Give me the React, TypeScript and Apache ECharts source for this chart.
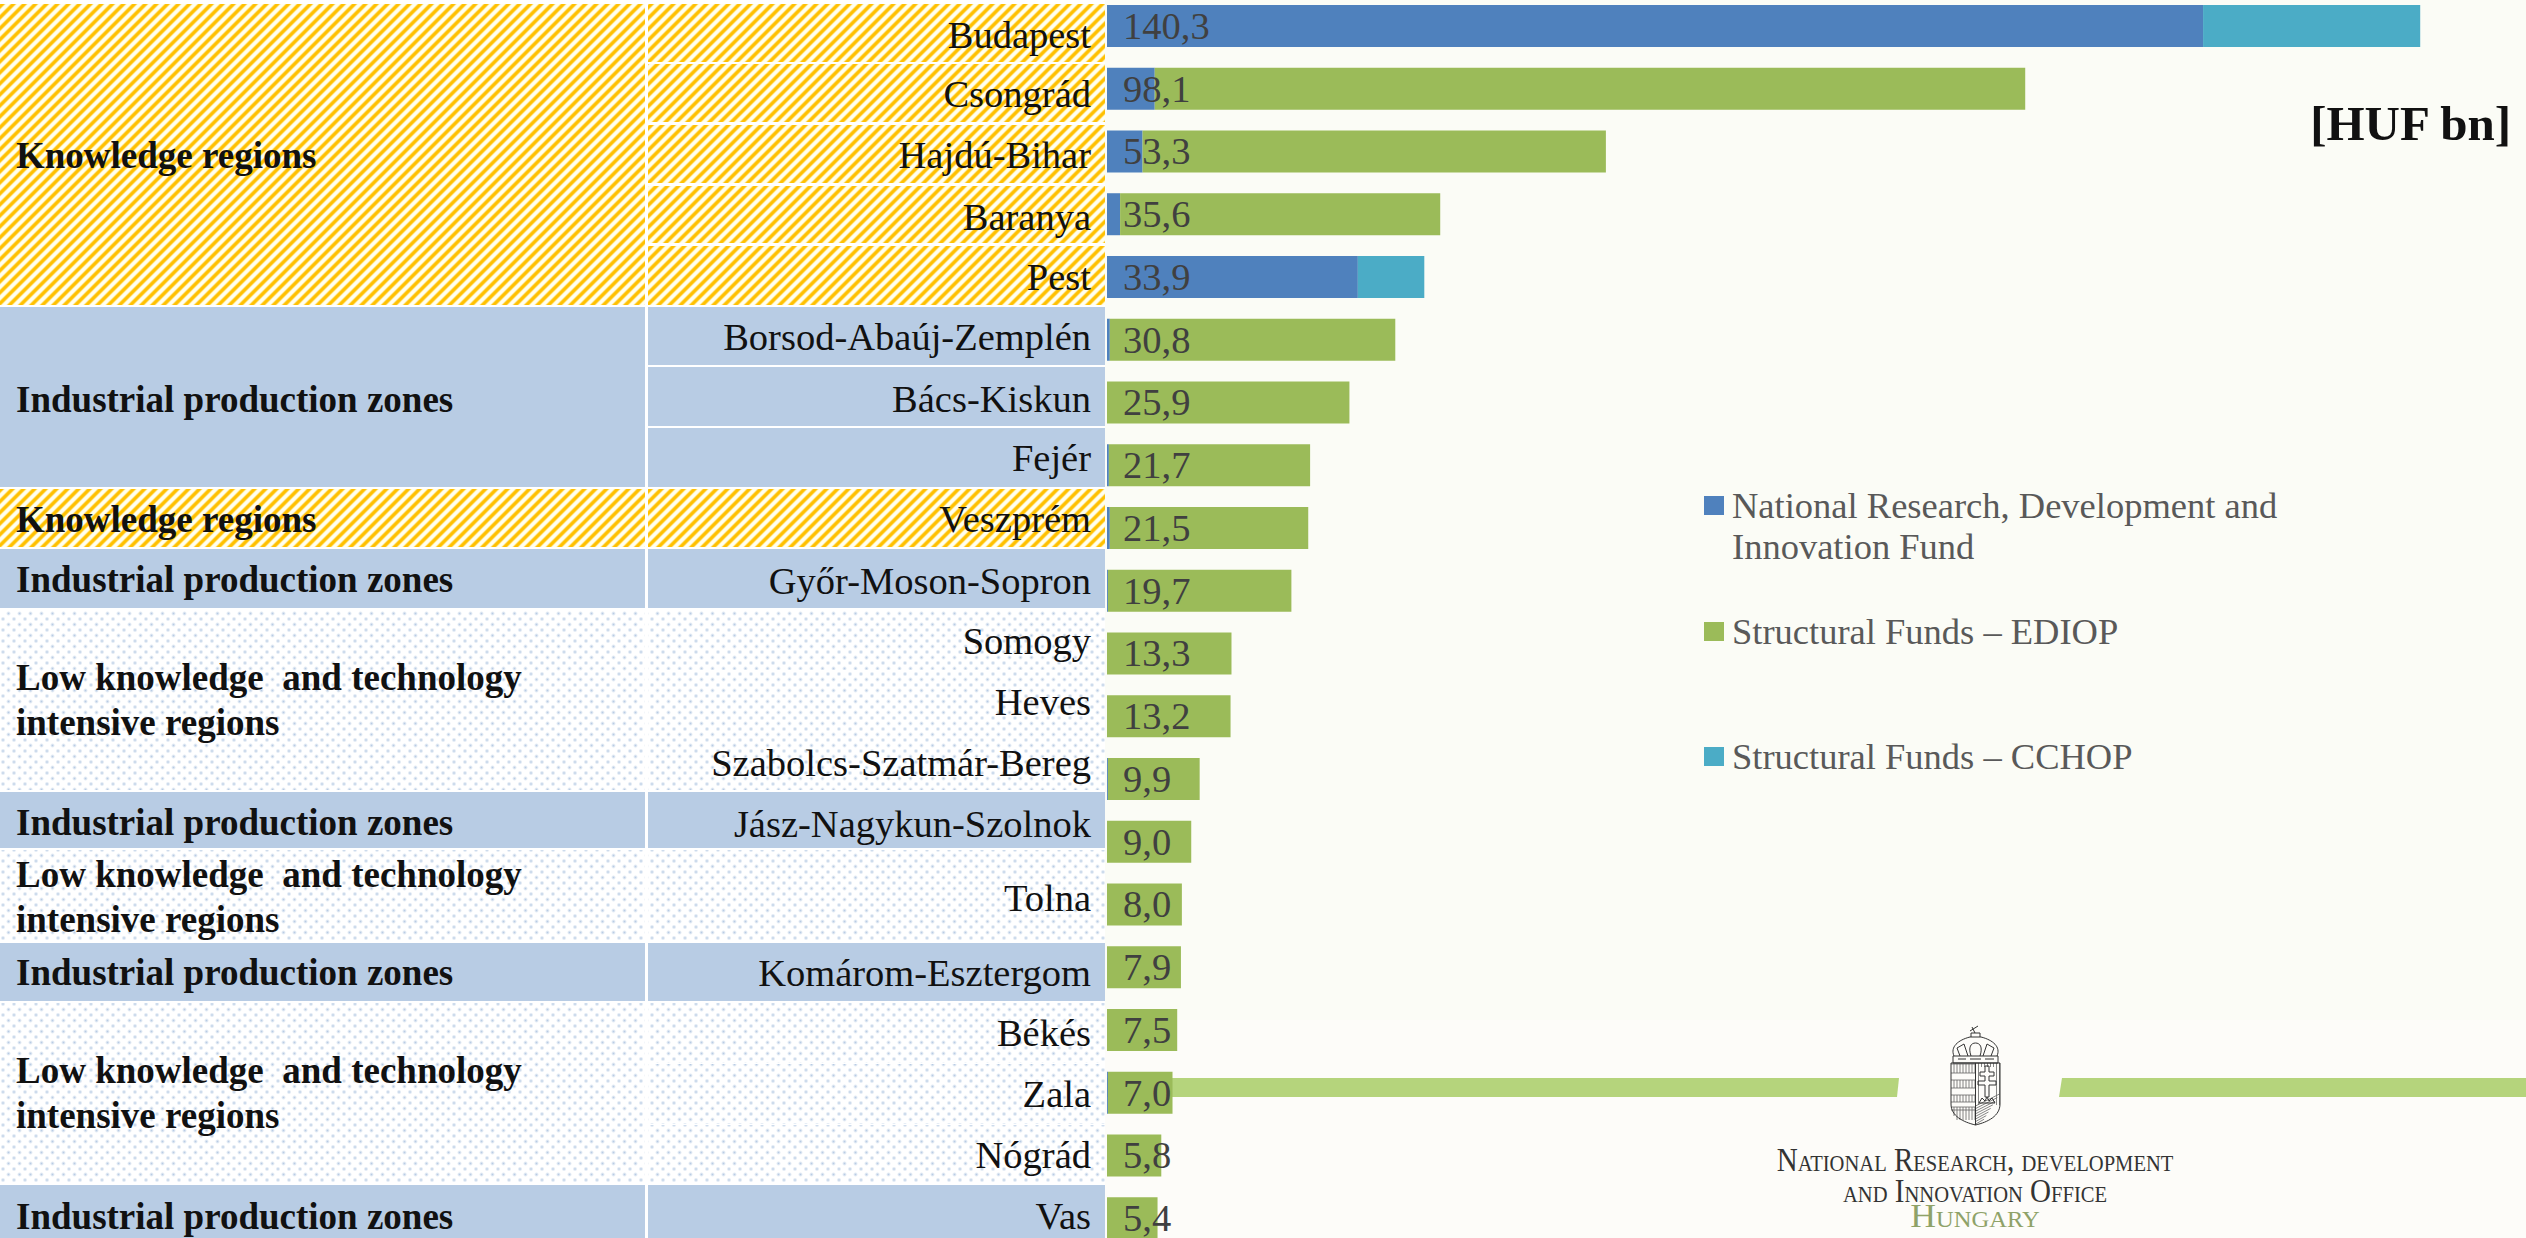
import React, { useEffect, useRef } from "react";
import * as echarts from "echarts";

const counties = [
  "Budapest", "Csongrád", "Hajdú-Bihar", "Baranya", "Pest",
  "Borsod-Abaúj-Zemplén", "Bács-Kiskun", "Fejér", "Veszprém", "Győr-Moson-Sopron",
  "Somogy", "Heves", "Szabolcs-Szatmár-Bereg", "Jász-Nagykun-Szolnok", "Tolna",
  "Komárom-Esztergom", "Békés", "Zala", "Nógrád", "Vas",
];
const nrdiFund = [117.1, 5.1, 3.8, 1.4, 26.8, 0.3, 0, 0.2, 0.3, 0.1, 0, 0, 0.1, 0, 0, 0, 0, 0.1, 0, 0];
const ediop = [0, 93.0, 49.5, 34.2, 0, 30.5, 25.9, 21.5, 21.2, 19.6, 13.3, 13.2, 9.8, 9.0, 8.0, 7.9, 7.5, 6.9, 5.8, 5.4];
const cchop = [23.2, 0, 0, 0, 7.1, 0, 0, 0, 0, 0, 0, 0, 0, 0, 0, 0, 0, 0, 0, 0];
const totals = [140.3, 98.1, 53.3, 35.6, 33.9, 30.8, 25.9, 21.7, 21.5, 19.7, 13.3, 13.2, 9.9, 9.0, 8.0, 7.9, 7.5, 7.0, 5.8, 5.4];

const KNOWLEDGE = "Knowledge regions";
const INDUSTRIAL = "Industrial production zones";
const LOW = "Low knowledge  and technology\nintensive regions";
const regionNames = [KNOWLEDGE, INDUSTRIAL, KNOWLEDGE, INDUSTRIAL, LOW, INDUSTRIAL, LOW, INDUSTRIAL, LOW, INDUSTRIAL];
const legendNames = ["National Research, Development and Innovation Fund", "Structural Funds – EDIOP", "Structural Funds – CCHOP"];

// ---- layout of the table that sits beside the chart (pixels) ----
const regionTop = [4, 307, 489, 549, 610, 792, 850, 943, 1003, 1185];
const regionBottom = [305, 487, 547, 608, 790, 848, 940, 1001, 1183, 1240];
const regionLabelY = [155, 399, 519, 579, 700, 822, 897, 972, 1093, 1216];
const rowTop = [4, 64, 125, 186, 246, 307, 367, 428, 489, 549, 610, 671, 732, 792, 850, 943, 1003, 1064, 1125, 1185];
const rowBottom = [62, 122, 183, 243, 305, 365, 426, 487, 547, 608, 670, 731, 790, 848, 940, 1001, 1063, 1124, 1183, 1240];
const rowLabelY = [35, 94, 155, 217, 277, 337, 399, 458, 519, 581, 641, 702, 763, 824, 898, 973, 1033, 1094, 1155, 1216];
const rowKind = ["y", "y", "y", "y", "y", "b", "b", "b", "y", "b", "d", "d", "d", "b", "d", "b", "d", "d", "d", "b"];
const regionKind = ["y", "b", "y", "b", "d", "b", "d", "b", "d", "b"];

const SERIF = "'Liberation Serif', 'DejaVu Serif', serif";

function makeTile(shade: (x: number, y: number) => [number, number, number]) {
  const c = document.createElement("canvas");
  c.width = 11;
  c.height = 11;
  const ctx = c.getContext("2d")!;
  const img = ctx.createImageData(11, 11);
  for (let y = 0; y < 11; y++) {
    for (let x = 0; x < 11; x++) {
      const [r, g, b] = shade(x, y);
      const i = (y * 11 + x) * 4;
      img.data[i] = r;
      img.data[i + 1] = g;
      img.data[i + 2] = b;
      img.data[i + 3] = 255;
    }
  }
  ctx.putImageData(img, 0, 0);
  return c;
}

function stripeTile() {
  return makeTile((x, y) => {
    const t = Math.min(1, Math.max(0, 0.57 + 0.75 * Math.cos((2 * Math.PI * (x + y)) / 11)));
    return [255, 192 + (255 - 192) * t, 0 + 240 * t];
  });
}

function dotTile() {
  const centres = [[2.5, 2.5], [8, 8]];
  return makeTile((x, y) => {
    let a = 0;
    for (const [cx, cy] of centres) {
      const d = Math.hypot(x - cx, y - cy);
      a = Math.max(a, Math.max(0, 1 - d / 2.4));
    }
    return [255 - (255 - 184) * a, 255 - (255 - 204) * a, 255 - (255 - 228) * a];
  });
}

function emblemPaths() {
  const L = 1951, R = 2000, M = 1975.5, T = 1063;
  const outline = `M${L} ${T}H${R}V1104C${R} 1116 1988 1122 ${M} 1125C1963 1122 ${L} 1116 ${L} 1104Z M${M} ${T}V1125`;
  let hatch = "";
  const leftBands = [[1064, 1073], [1080, 1088], [1095, 1102], [1107, 1120]];
  for (const [a, b] of leftBands) {
    for (let x = L + 3; x < M; x += 3) hatch += `M${x} ${a}V${x < 1956 && b > 1110 ? 1116 : b}`;
    hatch += `M${L} ${a}H${M}M${L} ${Math.min(b, 1110)}H${M}`;
  }
  for (let x = M + 3; x < R; x += 3) {
    if (x > 1981 && x < 1994) {
      hatch += `M${x} ${T}V1067`;
      continue;
    }
    hatch += `M${x} ${T}V1105`;
  }
  for (let i = 0; i < 8; i++) {
    const y = 1106 + i * 2.6;
    hatch += `M${M} ${y}L${Math.min(R, M + 24 - i * 2.2)} ${y - 12 + i}`;
  }
  const cross = `M1985 1066H1989V1072H1994V1076H1989V1081H1996V1085H1989V1097H1985V1085H1978V1081H1985V1076H1980V1072H1985Z M1979 1103L1982 1098L1985 1101L1987 1097L1989 1101L1992 1098L1995 1103H1979Z`;
  const crown =
    `M1953 1056H1998V1063H1953Z M1954 1056C1950 1047 1958 1040 1970 1037H1981C1993 1040 2001 1047 1997 1056` +
    `M1960 1056L1957 1048L1964 1044L1968 1056 M1983 1056L1987 1044L1994 1048L1991 1056 M1971 1056C1968 1047 1971 1043 1975.5 1043C1980 1043 1983 1047 1980 1056` +
    `M1971 1037V1033H1980V1037 M1975 1033L1972 1027 M1970 1031L1978 1026 M1958 1059H1966 M1970 1059H1981 M1985 1059H1994`;
  return { outline: outline + cross + crown, hatch };
}

const emblem = emblemPaths();
echarts.graphic.registerShape("emblemOutline", echarts.graphic.extendPath(emblem.outline, {}) as any);
echarts.graphic.registerShape("emblemHatch", echarts.graphic.extendPath(emblem.hatch, {}) as any);

export default function App() {
  const ref = useRef<HTMLDivElement>(null);
  useEffect(() => {
    const chart = echarts.init(ref.current!, undefined, { renderer: "svg" });
    const stripes = { image: stripeTile(), repeat: "repeat" };
    const dots = { image: dotTile(), repeat: "repeat" };
    const fillOf = (k: string): any => (k === "y" ? stripes : k === "d" ? dots : "#b8cce4");

    const elements: any[] = [
      { type: "rect", z: 0, shape: { x: 1105, y: 0, width: 1421, height: 1020 }, style: { fill: "#fbfcf6" } },
      { type: "rect", z: 0, shape: { x: 1105, y: 1020, width: 1421, height: 218 }, style: { fill: "#fdfcf9" } },
      { type: "polygon", z: 1, shape: { points: [[1107, 1078], [1899, 1078], [1897, 1097], [1107, 1097]] }, style: { fill: "#b5d47c" } },
      { type: "polygon", z: 1, shape: { points: [[2062, 1078], [2526, 1078], [2526, 1097], [2059, 1097]] }, style: { fill: "#b5d47c" } },
      { type: "emblemHatch", z: 1, style: { fill: "none", stroke: "#666", lineWidth: 0.8 } },
      { type: "emblemOutline", z: 1, style: { fill: "none", stroke: "#333", lineWidth: 1 } },
      {
        type: "text", z: 1, x: 1975, y: 1160, scaleX: 0.88,
        style: { text: "National Research, development", font: "small-caps 33px " + SERIF, fill: "#333333", textAlign: "center", textVerticalAlign: "middle" },
      },
      {
        type: "text", z: 1, x: 1975, y: 1191, scaleX: 0.88,
        style: { text: "and Innovation Office", font: "small-caps 33px " + SERIF, fill: "#333333", textAlign: "center", textVerticalAlign: "middle" },
      },
      {
        type: "text", z: 1, x: 1975, y: 1216, scaleX: 1.05,
        style: { text: "Hungary", font: "small-caps 34px " + SERIF, fill: "#8fa268", textAlign: "center", textVerticalAlign: "middle" },
      },
      {
        type: "text", z: 1, x: 1732, y: 546,
        style: { text: "Innovation Fund", fontFamily: SERIF, fontSize: 36.5, fill: "#595959", textAlign: "left", textVerticalAlign: "middle" },
      },
    ];

    regionNames.forEach((name, i) => {
      elements.push({
        type: "rect", z: 0,
        shape: { x: 0, y: regionTop[i], width: 645, height: regionBottom[i] - regionTop[i] },
        style: { fill: fillOf(regionKind[i]) },
      });
      elements.push({
        type: "text", z: 1, x: 16, y: regionLabelY[i],
        style: {
          text: name, fontFamily: SERIF, fontSize: 37, fontWeight: "bold", lineHeight: 45, fill: "#111",
          textAlign: "left", textVerticalAlign: "middle",
        },
      });
    });
    counties.forEach((name, i) => {
      elements.push({
        type: "rect", z: 0,
        shape: { x: 648, y: rowTop[i], width: 457, height: rowBottom[i] - rowTop[i] },
        style: { fill: fillOf(rowKind[i]) },
      });
      elements.push({
        type: "text", z: 1, x: 1091, y: rowLabelY[i],
        style: { text: name, fontFamily: SERIF, fontSize: 38.5, fill: "#111", textAlign: "right", textVerticalAlign: "middle" },
      });
    });

    const legendBase = {
      orient: "horizontal", padding: 0, left: 1704, itemWidth: 20, itemHeight: 19, selectedMode: false, icon: "rect",
      textStyle: { fontFamily: SERIF, fontSize: 36.5, color: "#595959", padding: [0, 0, 0, 3] },
    };
    const barBase = { type: "bar", barWidth: 42, stack: "funds" };

    chart.setOption({
      animation: false,
      backgroundColor: "#ffffff",
      title: {
        text: "[HUF bn]", right: 13, top: 99, padding: 0,
        textStyle: { fontFamily: SERIF, fontSize: 49, fontWeight: "bold", color: "#111" },
      },
      legend: [
        { ...legendBase, top: 487, data: [legendNames[0]], formatter: () => "National Research, Development and" },
        { ...legendBase, top: 613, data: [legendNames[1]] },
        { ...legendBase, top: 738, data: [legendNames[2]] },
      ],
      grid: { left: 1107, top: -5.4, width: 1404, height: 1255, outerBoundsMode: "none" },
      xAxis: { type: "value", min: 0, max: 150, show: false },
      yAxis: { type: "category", data: counties, inverse: true, show: false },
      graphic: { elements },
      series: [
        { ...barBase, name: legendNames[0], data: nrdiFund, itemStyle: { color: "#4f81bd" } },
        { ...barBase, name: legendNames[1], data: ediop, itemStyle: { color: "#9bbb59" } },
        { ...barBase, name: legendNames[2], data: cchop, itemStyle: { color: "#4bacc6" } },
        {
          type: "bar", name: "Total", barWidth: 42, barGap: "-100%", z: 5, data: totals,
          itemStyle: { color: "transparent" }, silent: true,
          label: {
            show: true, position: "insideLeft", distance: 16,
            formatter: (p: any) => Number(p.value).toFixed(1).replace(".", ","),
            fontFamily: SERIF, fontSize: 38.5, color: "#404040",
          },
        },
      ],
    } as any);
    return () => chart.dispose();
  }, []);
  return <div ref={ref} style={{ position: "fixed", left: 0, top: 0, width: 2526, height: 1238 }} />;
}
